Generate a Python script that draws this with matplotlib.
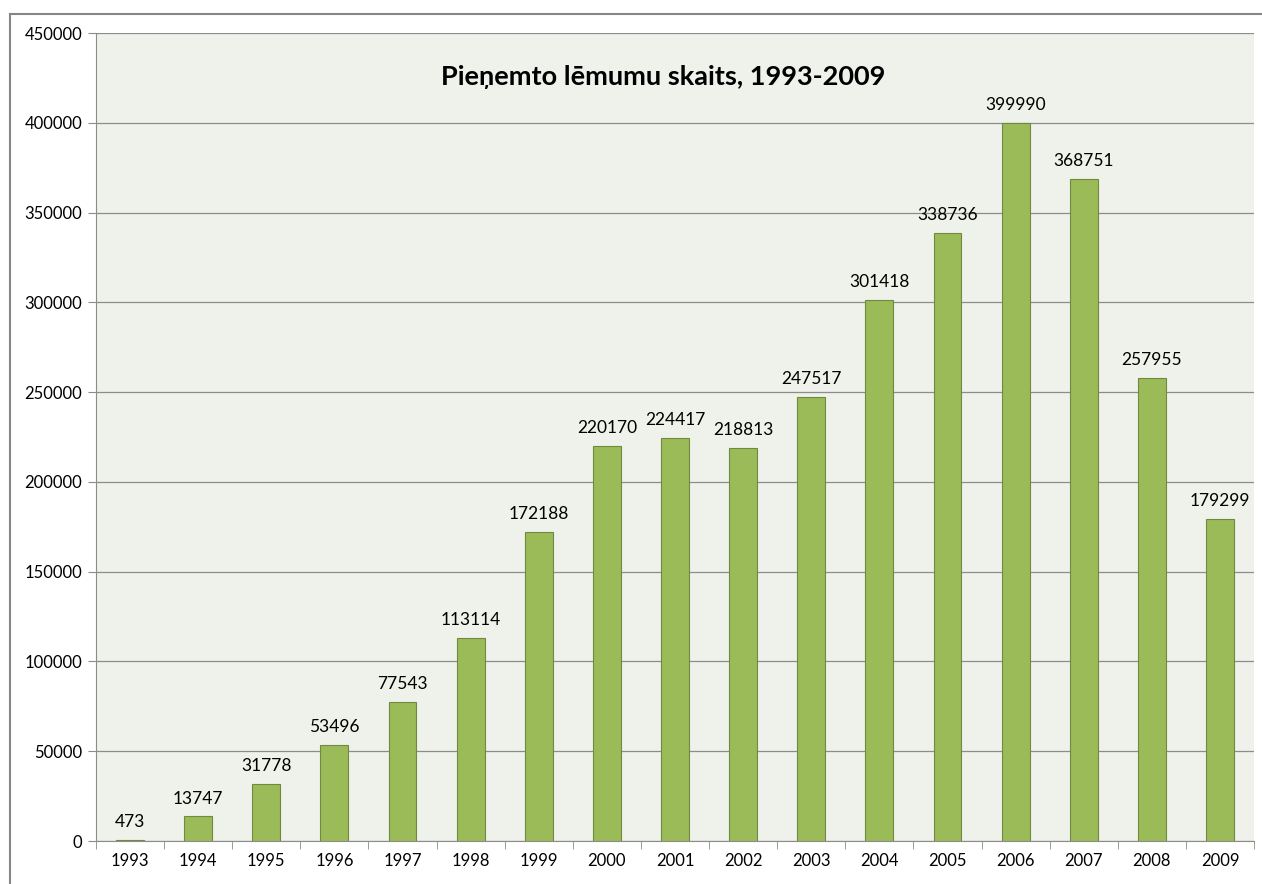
import matplotlib
matplotlib.use("Agg")
import matplotlib.pyplot as plt
from matplotlib.lines import Line2D

years = ["1993", "1994", "1995", "1996", "1997", "1998", "1999", "2000", "2001",
         "2002", "2003", "2004", "2005", "2006", "2007", "2008", "2009"]
counts = [473, 13747, 31778, 53496, 77543, 113114, 172188, 220170, 224417,
          218813, 247517, 301418, 338736, 399990, 368751, 257955, 179299]
y_ticks = [0, 50000, 100000, 150000, 200000, 250000, 300000, 350000, 400000, 450000]
title = "Pieņemto lēmumu skaits, 1993-2009"

plt.rcParams['font.family'] = ['Lato', 'DejaVu Sans']

fig = plt.figure(figsize=(12.62, 8.84), dpi=100, facecolor='white')
# outer chart frame (only top and left edges visible)
fx, fy = 9.5 / 1262, (884 - 13.5) / 884
fig.add_artist(Line2D([fx, 1.0], [fy, fy], transform=fig.transFigure,
                      color='#868686', linewidth=1.5))
fig.add_artist(Line2D([fx, fx], [0.0, fy], transform=fig.transFigure,
                      color='#868686', linewidth=1.5))

ax = fig.add_axes([96 / 1262, 43 / 884, 1158 / 1262, 808 / 884])
ax.set_facecolor('#EFF2EA')

x = list(range(len(years)))
ax.bar(x, counts, width=0.41, color='#9BBB59', edgecolor='#71893F', linewidth=0.8, zorder=3)

for xi, v in zip(x, counts):
    ax.annotate(f"{v}", (xi, v), xytext=(0, 7), textcoords='offset points',
                ha='center', va='bottom', fontsize=12.5, color='black')

ax.set_xlim(-0.5, len(years) - 0.5)
ax.set_ylim(0, 450000)
ax.set_yticks(y_ticks)
ax.set_yticklabels([str(t) for t in y_ticks], fontsize=12)
ax.yaxis.grid(True, color='#8C8C8C', linewidth=0.9, zorder=0)
ax.set_axisbelow(True)

ax.set_xticks(x)
ax.set_xticklabels(years, fontsize=12)
ax.set_xticks([i - 0.5 for i in range(len(years) + 1)], minor=True)
ax.tick_params(axis='x', which='major', length=0, pad=9)
ax.tick_params(axis='x', which='minor', length=6, color='#8C8C8C', direction='out')
ax.tick_params(axis='y', length=6, color='#8C8C8C', direction='out', pad=4)

for side in ['top', 'right']:
    ax.spines[side].set_visible(False)
ax.spines['left'].set_color('#8C8C8C')
ax.spines['bottom'].set_color('#8C8C8C')

ax.text(0.49, 0.946, title, transform=ax.transAxes, ha='center', va='center',
        fontsize=19.5, fontweight='bold')

fig.savefig('out.png', dpi=100, facecolor='white')
